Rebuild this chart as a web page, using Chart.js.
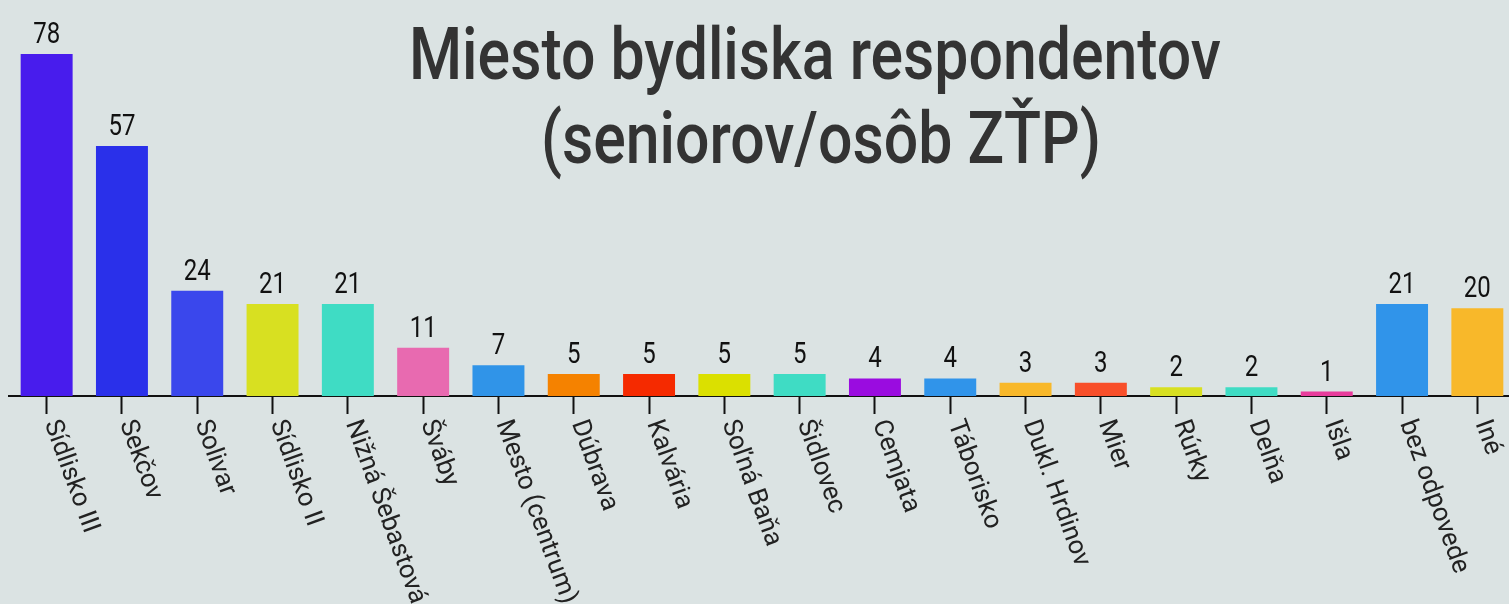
<!DOCTYPE html>
<html>
<head>
<meta charset="utf-8">
<script src="https://cdn.jsdelivr.net/npm/chart.js@4.4.1/dist/chart.umd.min.js"></script>
<style>
  html, body { margin: 0; padding: 0; background: #dbe3e3; overflow: hidden; }
  #wrap { width: 1516px; height: 604px; position: relative; }
</style>
</head>
<body>
<div id="wrap"><canvas id="placesChart"></canvas></div>
<script>
const titleLines = ['Miesto bydliska respondentov', '(seniorov/osôb ZŤP)'];
const places = ['Sídlisko III', 'Sekčov', 'Solivar', 'Sídlisko II', 'Nižná Šebastová', 'Šváby',
    'Mesto (centrum)', 'Dúbrava', 'Kalvária', 'Soľná Baňa', 'Šidlovec', 'Cemjata', 'Táborisko',
    'Dukl. Hrdinov', 'Mier', 'Rúrky', 'Delňa', 'Išla', 'bez odpovede', 'Iné'];
const counts = [78, 57, 24, 21, 21, 11, 7, 5, 5, 5, 5, 4, 4, 3, 3, 2, 2, 1, 21, 20];
const barColors = ['#481ced', '#2a30ea', '#3a47ec', '#d8e021', '#3fdcc4', '#e86ab0',
    '#3094e8', '#f58200', '#f52a00', '#dbe000', '#3fdcc4', '#9a0ce0', '#3094ea',
    '#f8b82a', '#f84f2a', '#d8e021', '#3fdcc4', '#e83c9c', '#3094ea', '#f8b82a'];

// draws text squeezed horizontally, to imitate a condensed face
function narrowText(ctx, text, x, y, squeeze) {
    ctx.save();
    ctx.translate(x, y);
    ctx.scale(squeeze, 1);
    ctx.fillText(text, 0, 0);
    ctx.restore();
}

// value labels above each bar
const valueLabels = {
    id: 'valueLabels',
    afterDatasetsDraw(chart) {
        const ctx = chart.ctx;
        const meta = chart.getDatasetMeta(0);
        ctx.save();
        ctx.fillStyle = '#111';
        ctx.font = '30px "Roboto", sans-serif';
        ctx.textAlign = 'center';
        ctx.textBaseline = 'alphabetic';
        meta.data.forEach((bar, i) => {
            narrowText(ctx, String(counts[i]), bar.x, bar.y - 11, 0.8);
        });
        ctx.restore();
    }
};

// rotated category labels, going down to the right
const slantLabels = {
    id: 'slantLabels',
    afterDraw(chart) {
        const ctx = chart.ctx;
        const xs = chart.scales.x;
        const angle = 70 * Math.PI / 180;
        ctx.save();
        ctx.fillStyle = '#222';
        ctx.font = '26px "Roboto", sans-serif';
        ctx.textAlign = 'left';
        ctx.textBaseline = 'middle';
        places.forEach((p, i) => {
            const x = xs.getPixelForTick(i);
            ctx.save();
            ctx.translate(x + 4, xs.top + 25);
            ctx.rotate(angle);
            ctx.fillText(p, 0, 0);
            ctx.restore();
        });
        ctx.restore();
    }
};

const bigTitle = {
    id: 'bigTitle',
    afterDraw(chart) {
        const ctx = chart.ctx;
        ctx.save();
        ctx.fillStyle = '#333';
        ctx.font = '500 73px "Roboto", sans-serif';
        ctx.textAlign = 'center';
        ctx.textBaseline = 'alphabetic';
        const w = ctx.measureText(titleLines[0]).width;
        const squeeze = 812 / w;
        narrowText(ctx, titleLines[0], 815, 79, squeeze);
        narrowText(ctx, titleLines[1], 821, 163, squeeze);
        ctx.restore();
    }
};

document.addEventListener('DOMContentLoaded', function() {
    const ctx = document.getElementById('placesChart').getContext('2d');
    new Chart(ctx, {
        type: 'bar',
        data: {
            labels: places,
            datasets: [{
                data: counts,
                backgroundColor: barColors,
                borderWidth: 0,
                barPercentage: 0.69,
                categoryPercentage: 1
            }]
        },
        options: {
            responsive: true,
            maintainAspectRatio: false,
            animation: false,
            layout: { padding: { top: 54, left: 9, right: 1, bottom: 0 } },
            plugins: {
                legend: { display: false },
                tooltip: { enabled: false },
                title: { display: false }
            },
            scales: {
                x: {
                    afterFit(scale) { scale.height = 208; },
                    grid: {
                        offset: false,
                        drawOnChartArea: false,
                        drawTicks: true,
                        tickLength: 18,
                        tickWidth: 2,
                        tickColor: '#111'
                    },
                    border: { display: true, color: '#111', width: 2 },
                    ticks: { display: false }
                },
                y: {
                    display: false,
                    min: 0,
                    max: 78
                }
            }
        },
        plugins: [valueLabels, slantLabels, bigTitle]
    });
});
</script>
</body>
</html>
